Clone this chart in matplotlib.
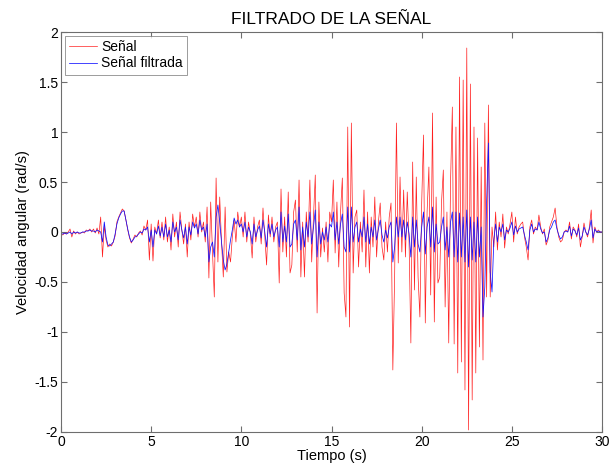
import numpy as np
import matplotlib.pyplot as plt

plt.rcParams['font.family'] = ['Liberation Sans', 'DejaVu Sans']

senal = [
    -0.02, -0.03, -0.01, -0.02, 0.00, 0.03, -0.05, 0.01, -0.02, 0.00,
    -0.02, -0.01, 0.00, -0.01, 0.02, 0.01, 0.03, 0.00, 0.03, -0.01,
    0.04, -0.02, 0.15, -0.25, 0.06, -0.08, -0.15, -0.12, -0.14, -0.10,
    -0.04, 0.10, 0.15, 0.19, 0.23, 0.21, 0.12, 0.02, -0.06, -0.11,
    -0.07, -0.03, -0.05, -0.01, 0.01, -0.03, 0.06, 0.02, 0.12, -0.28,
    0.08, -0.29, 0.05, -0.02, 0.12, -0.06, 0.10, -0.08, 0.15, -0.10,
    0.05, -0.18, 0.18, -0.05, 0.10, -0.15, 0.20, 0.02, -0.12, 0.08,
    -0.25, 0.10, -0.08, 0.18, 0.05, 0.15, -0.05, 0.20, 0.00, 0.10,
    -0.10, 0.25, -0.46, 0.30, -0.20, -0.65, 0.54, -0.30, 0.35, -0.10,
    -0.45, 0.25, -0.40, -0.20, -0.30, -0.05, 0.12, -0.10, 0.20, 0.05,
    0.15, -0.05, 0.20, -0.10, 0.10, -0.02, -0.26, 0.15, -0.10, 0.05,
    0.12, -0.12, 0.24, -0.05, -0.33, 0.17, -0.05, 0.15, -0.10, 0.05,
    0.10, -0.51, 0.43, -0.20, 0.15, -0.25, 0.40, -0.41, -0.33, 0.20,
    0.32, -0.20, 0.52, -0.45, 0.10, -0.45, 0.20, -0.10, 0.52, -0.30,
    0.15, 0.57, -0.81, 0.30, -0.25, 0.04, -0.20, 0.10, -0.30, 0.20,
    0.10, 0.52, -0.21, 0.30, -0.35, 0.20, 0.54, -0.61, -0.85, 1.05,
    -0.95, 1.09, -0.41, 0.15, 0.22, -0.35, 0.10, -0.20, 0.42, -0.35,
    0.20, -0.41, 0.15, -0.15, 0.35, -0.25, 0.10, 0.29, -0.15, -0.28,
    0.10, -0.20, 0.15, 0.29, -1.38, -0.45, 1.09, -0.31, 0.55, -0.20,
    0.42, -0.25, 0.40, -0.10, -1.11, 0.70, -0.58, 0.55, -0.45, -0.85,
    0.29, 0.97, -0.91, 0.20, 0.65, -0.63, 1.19, -0.90, 0.35, -0.51,
    -0.45, 0.30, 0.62, -0.75, 0.20, -1.11, 0.50, 1.25, -1.12, 1.05,
    -1.41, 1.55, -1.30, 1.52, -1.58, 1.84, -1.98, 1.48, -1.68, 1.05,
    -1.41, 0.94, -1.15, 0.65, -1.28, 1.09, -0.65, 1.27, -0.65, 0.05,
    -0.15, 0.20, -0.18, 0.10, -0.05, 0.18, -0.16, 0.05, -0.02, 0.08,
    0.20, -0.10, 0.15, -0.02, 0.05, 0.08, 0.10, -0.05, -0.15, -0.28,
    0.05, 0.12, -0.02, 0.05, 0.02, 0.17, 0.05, -0.02, 0.03, -0.13,
    -0.08, 0.05, 0.10, 0.15, 0.24, 0.05, -0.05, -0.10, -0.08, 0.00,
    0.02, 0.00, 0.10, -0.07, 0.05, 0.02, -0.05, 0.08, -0.15, -0.05,
    0.09, 0.00, -0.05, 0.05, 0.22, -0.11, 0.05, 0.00, 0.02, 0.00,
    0.00,
]

# señal filtrada, mismo muestreo
filtrada = [
    -0.02, -0.02, -0.01, -0.02, -0.01, 0.00, -0.02, 0.00, -0.01, 0.00,
    -0.01, -0.01, 0.00, 0.00, 0.01, 0.01, 0.02, 0.01, 0.01, 0.00,
    0.02, 0.01, 0.00, -0.10, 0.10, -0.05, -0.13, -0.14, -0.12, -0.10,
    -0.02, 0.08, 0.14, 0.18, 0.21, 0.21, 0.12, 0.03, -0.05, -0.10,
    -0.08, -0.05, -0.04, -0.02, 0.00, -0.01, 0.03, 0.02, 0.05, -0.10,
    0.02, -0.15, 0.02, -0.02, 0.06, -0.04, 0.05, -0.05, 0.08, -0.05,
    0.02, -0.10, 0.10, 0.00, 0.05, -0.08, 0.12, 0.02, -0.06, 0.05,
    -0.12, 0.05, -0.03, 0.10, 0.04, 0.08, -0.02, 0.12, 0.02, 0.05,
    -0.05, 0.08, -0.30, -0.15, -0.10, -0.25, 0.15, 0.27, 0.10, -0.10,
    -0.28, -0.38, -0.32, -0.20, -0.08, 0.02, 0.14, 0.08, 0.12, 0.05,
    0.08, 0.00, 0.10, -0.05, 0.05, 0.00, -0.12, 0.08, -0.05, 0.02,
    0.06, -0.06, 0.12, 0.00, -0.15, 0.08, -0.02, 0.08, -0.05, 0.02,
    0.05, -0.15, 0.20, -0.10, 0.06, -0.10, 0.18, -0.15, -0.12, 0.08,
    0.12, -0.08, 0.25, -0.18, 0.05, -0.15, 0.10, -0.05, 0.20, -0.12,
    0.05, 0.22, -0.25, 0.10, -0.12, 0.00, -0.08, 0.05, -0.10, 0.08,
    0.05, 0.20, -0.08, 0.10, -0.12, 0.08, 0.18, -0.15, -0.20, 0.25,
    -0.20, 0.25, -0.10, 0.05, 0.10, -0.10, 0.03, -0.05, 0.15, -0.10,
    0.08, -0.12, 0.05, -0.05, 0.12, -0.08, 0.03, 0.12, -0.03, -0.10,
    0.02, -0.06, 0.05, 0.10, -0.30, -0.15, 0.15, -0.05, 0.15, -0.05,
    0.12, -0.08, 0.10, -0.02, -0.25, 0.15, -0.15, 0.12, -0.12, -0.20,
    0.05, 0.20, -0.22, 0.05, 0.15, -0.15, 0.25, -0.20, 0.08, -0.12,
    -0.10, 0.05, 0.15, -0.18, 0.05, -0.25, 0.10, 0.20, -0.25, 0.20,
    -0.30, 0.19, -0.25, 0.15, -0.30, 0.22, -0.35, 0.15, -0.28, 0.10,
    -0.30, 0.15, -0.25, 0.05, -0.85, -0.55, 0.30, 0.89, -0.40, -0.60,
    -0.08, 0.08, -0.10, 0.05, 0.00, 0.08, -0.08, 0.02, 0.00, 0.04,
    0.10, -0.03, 0.06, 0.00, 0.03, 0.04, 0.05, -0.03, -0.10, -0.18,
    0.02, 0.08, 0.00, 0.03, 0.02, 0.10, 0.03, -0.01, 0.00, -0.10,
    -0.06, 0.02, 0.05, 0.10, 0.12, 0.03, -0.03, -0.07, -0.05, 0.00,
    0.01, 0.00, 0.06, -0.04, 0.03, 0.01, -0.03, 0.04, -0.08, -0.04,
    0.05, 0.00, -0.03, 0.03, 0.12, -0.06, 0.03, 0.00, 0.01, 0.00,
    0.00,
]

dt = 0.1
t = np.arange(len(senal)) * dt

xticks = [0, 5, 10, 15, 20, 25, 30]
yticks = [-2, -1.5, -1, -0.5, 0, 0.5, 1, 1.5, 2]

fig = plt.figure(figsize=(6.15, 4.66), dpi=100)
ax = fig.add_axes([0.0992, 0.073, 0.8797, 0.8583])

ax.plot(t, senal, color='#ff2020', lw=0.5, label='Señal')
ax.plot(t, filtrada, color='#1010ff', lw=0.55, label='Señal filtrada')

ax.set_xlim(0, 30)
ax.set_ylim(-2, 2)
ax.set_xticks(xticks)
ax.set_yticks(yticks)
ax.set_yticklabels([f'{v:g}' for v in yticks])

for s in ax.spines.values():
    s.set_color('#6e6e6e')
    s.set_linewidth(0.8)
ax.tick_params(direction='in', top=True, right=True, length=4,
               color='#6e6e6e', labelsize=10, pad=2)

ax.set_title('FILTRADO DE LA SEÑAL', fontsize=12.5, pad=6)
ax.set_xlabel('Tiempo (s)', fontsize=10.5, labelpad=0)
ax.set_ylabel('Velocidad angular (rad/s)', fontsize=10.5, labelpad=3)

leg = ax.legend(loc='upper left', fontsize=10, frameon=True, fancybox=False,
                handlelength=2.0, handletextpad=0.3, borderpad=0.3,
                labelspacing=0.15, borderaxespad=0.3)
leg.get_frame().set_edgecolor('#6e6e6e')
leg.get_frame().set_linewidth(0.6)

fig.savefig('out.png', dpi=100)
